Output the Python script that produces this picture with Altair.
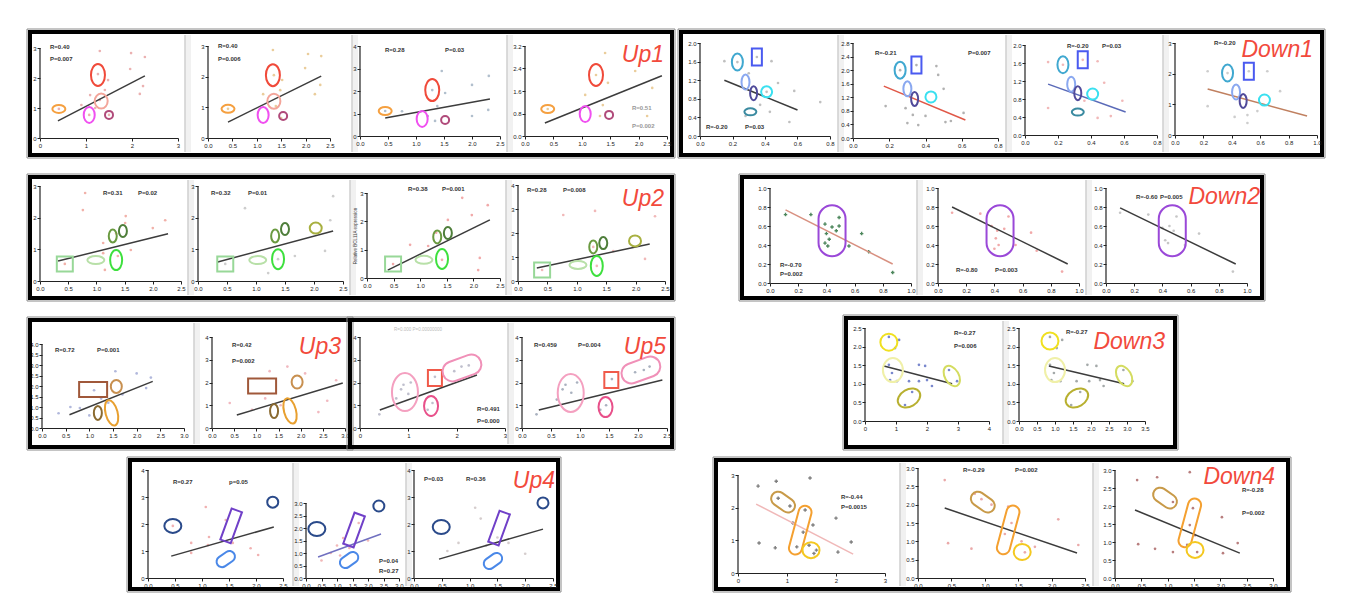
import altair as alt
import pandas as pd

# ======================= values =======================
# ---- Up1 ----
U1A_PX = [1.30, 1.98, 2.28, 1.96, 2.24, 2.17, 1.48, 1.41, 1.09, 1.26, 1.30, 1.07, 1.50, 0.41, 1.20, 0.90]
U1A_PY = [2.90, 2.83, 2.70, 2.30, 1.73, 1.47, 1.93, 1.60, 1.43, 2.13, 1.27, 0.77, 0.77, 0.97, 1.00, 1.10]
U1A_FIT = [0.39, 0.57, 2.28, 2.07]
U1A_MX = [0.41, 1.26, 1.33, 1.07, 1.50]
U1A_MY = [0.97, 2.10, 1.23, 0.77, 0.77]
U1A_TXT = ["R=0.40", "P=0.007"]

U1B_PX = [1.33, 2.05, 2.32, 1.99, 2.30, 2.19, 1.52, 1.48, 1.13, 1.50, 1.39, 1.35, 0.41]
U1B_PY = [2.87, 2.74, 2.67, 2.28, 1.73, 1.43, 1.89, 1.56, 1.43, 0.65, 1.04, 2.05, 0.95]
U1B_FIT = [0.41, 0.52, 2.32, 2.02]
U1B_MX = [0.41, 1.33, 1.35, 1.13, 1.54]
U1B_MY = [0.95, 2.05, 1.20, 0.75, 0.72]
U1B_TXT = ["R=0.40", "P=0.006"]

U1C_PX = [1.46, 2.00, 2.30, 1.52, 1.38, 2.29, 2.00, 1.21, 0.75, 1.34, 1.29, 0.45]
U1C_PY = [2.89, 2.27, 2.67, 1.91, 1.33, 1.16, 0.89, 0.89, 1.10, 0.67, 2.04, 1.11]
U1C_FIT = [0.45, 0.80, 2.32, 1.64]
U1C_MX = [0.45, 1.29, None, 1.11, 1.52]
U1C_MY = [1.11, 2.04, None, 0.76, 0.71]
U1C_TXT = ["R=0.28", "P=0.03"]

U1D_PX = [1.41, 1.94, 2.24, 1.46, 1.37, 1.32, 1.06, 2.15, 1.25, 0.40]
U1D_PY = [2.95, 2.31, 1.71, 1.89, 1.10, 0.71, 1.46, 0.71, 2.17, 0.96]
U1D_FIT = [0.35, 0.46, 2.41, 2.14]
U1D_MX = [0.40, 1.25, None, 1.06, 1.48]
U1D_MY = [0.96, 2.17, None, 0.78, 0.75]
U1D_TXT = ["R=0.51", "P=0.002"]

# ---- Down1 ----
D1A_PX = [0.15, 0.44, 0.48, 0.58, 0.30, 0.55, 0.37, 0.43, 0.74, 0.28, 0.41, 0.23, 0.35]
D1A_PY = [1.61, 1.61, 1.14, 0.97, 1.35, 0.30, 0.67, 0.52, 0.73, 0.43, 0.95, 1.59, 1.70]
D1A_FIT = [0.15, 1.20, 0.60, 0.56]
D1A_MX = [0.23, 0.35, 0.28, 0.33, 0.41, 0.31]
D1A_MY = [1.59, 1.70, 1.16, 0.92, 0.95, 0.52]
D1A_TXT = ["R=-0.20", "P=0.03"]

D1B_PX = [0.18, 0.29, 0.33, 0.40, 0.47, 0.50, 0.46, 0.30, 0.36, 0.51, 0.54, 0.61, 0.26, 0.35]
D1B_PY = [0.94, 0.88, 0.68, 0.65, 1.86, 1.45, 2.12, 0.44, 0.38, 0.47, 0.50, 0.74, 2.00, 2.15]
D1B_FIT = [0.17, 1.53, 0.62, 0.53]
D1B_MX = [0.26, 0.35, 0.30, 0.34, 0.43, None]
D1B_MY = [2.00, 2.15, 1.45, 1.15, 1.21, None]
D1B_TXT = ["R=-0.21", "P=0.007"]

D1C_PX = [0.14, 0.44, 0.48, 0.14, 0.44, 0.52, 0.59, 0.36, 0.23, 0.35]
D1C_PY = [1.62, 1.64, 1.16, 0.60, 0.38, 0.42, 0.76, 0.76, 1.56, 1.67]
D1C_FIT = [0.14, 1.13, 0.61, 0.51]
D1C_MX = [0.23, 0.35, 0.28, 0.32, 0.41, 0.32]
D1C_MY = [1.56, 1.67, 1.13, 0.93, 0.91, 0.51]
D1C_TXT = ["R=-0.20", "P=0.03"]

D1D_PX = [0.23, 0.65, 0.74, 0.42, 0.51, 0.58, 0.51, 0.23, 0.37, 0.52]
D1D_PY = [2.08, 2.08, 1.43, 0.59, 0.65, 0.78, 0.39, 0.94, 2.02, 2.08]
D1D_FIT = [0.23, 1.50, 0.93, 0.62]
D1D_MX = [0.37, 0.52, 0.43, 0.48, 0.63, None]
D1D_MY = [2.02, 2.08, 1.40, 1.11, 1.14, None]
D1D_TXT = ["R=-0.20"]

# ---- Up2 ----
U2A_PX = [0.80, 0.76, 1.52, 1.51, 2.22, 2.00, 1.12, 1.61, 1.12, 1.15, 1.38, 0.44, 1.35]
U2A_PY = [2.78, 2.24, 2.05, 1.83, 1.92, 1.67, 1.20, 0.98, 0.88, 0.35, 0.79, 0.54, 1.50]
U2A_FIT = [0.32, 0.63, 2.27, 1.49]
U2A_MX = [0.44, 0.99, 1.35, 1.29, 1.47, None]
U2A_MY = [0.54, 0.66, 0.66, 1.42, 1.58, None]
U2A_TXT = ["R=0.31", "P=0.02"]

U2B_PX = [0.81, 2.33, 2.28, 2.19, 1.21, 1.67, 0.47, 1.38]
U2B_PY = [2.30, 2.68, 1.92, 0.95, 0.25, 0.79, 0.54, 0.69]
U2B_FIT = [0.34, 0.60, 2.33, 1.58]
U2B_MX = [0.47, 1.03, 1.38, 1.33, 1.50, 2.03]
U2B_MY = [0.54, 0.66, 0.69, 1.42, 1.64, 1.67]
U2B_TXT = ["R=0.32", "P=0.01"]

U2C_PX = [1.79, 1.97, 2.27, 1.52, 0.81, 1.15, 1.41, 2.12, 2.09, 0.49, 1.30]
U2C_PY = [2.83, 2.22, 2.57, 2.05, 1.17, 1.13, 0.64, 0.71, 0.28, 0.49, 1.60]
U2C_FIT = [0.39, 0.28, 2.31, 2.05]
U2C_MX = [0.49, 1.07, 1.41, 1.32, 1.52, None]
U2C_MY = [0.49, 0.64, 0.67, 1.45, 1.59, None]
U2C_TXT = ["R=0.38", "P=0.001"]

U2D_PX = [0.77, 1.31, 2.33, 2.16, 1.62, 0.41, 1.34, 1.28]
U2D_PY = [2.75, 2.92, 2.70, 0.92, 1.25, 0.46, 0.63, 1.42]
U2D_FIT = [0.32, 0.54, 2.24, 1.54]
U2D_MX = [0.41, 1.02, 1.34, 1.28, 1.45, 1.99]
U2D_MY = [0.46, 0.67, 0.63, 1.42, 1.58, 1.67]
U2D_TXT = ["R=0.28", "P=0.008"]

# ---- Down2 ----
D2A_PX = [0.11, 0.29, 0.39, 0.44, 0.47, 0.49, 0.40, 0.42, 0.39, 0.41, 0.56, 0.65, 0.70, 0.87, 0.49]
D2A_PY = [0.72, 0.72, 0.62, 0.59, 0.55, 0.69, 0.52, 0.46, 0.42, 0.39, 0.39, 0.52, 0.33, 0.11, 0.60]
D2A_FIT = [0.11, 0.77, 0.87, 0.20]
D2A_MX = [0.44]
D2A_MY = [0.55]
D2A_TXT = ["R=-0.70", "P=0.002"]

D2B_PX = [0.10, 0.30, 0.38, 0.42, 0.47, 0.50, 0.41, 0.43, 0.40, 0.55, 0.66, 0.70, 0.88]
D2B_PY = [0.74, 0.73, 0.60, 0.55, 0.57, 0.70, 0.47, 0.40, 0.36, 0.40, 0.53, 0.34, 0.12]
D2B_FIT = [0.10, 0.80, 0.92, 0.20]
D2B_MX = [0.44]
D2B_MY = [0.55]
D2B_TXT = ["R=-0.80", "P=0.003"]

D2C_PX = [0.10, 0.30, 0.40, 0.45, 0.48, 0.50, 0.42, 0.44, 0.56, 0.66, 0.90]
D2C_PY = [0.74, 0.72, 0.58, 0.60, 0.55, 0.70, 0.45, 0.42, 0.40, 0.52, 0.12]
D2C_FIT = [0.10, 0.79, 0.92, 0.20]
D2C_MX = [0.47]
D2C_MY = [0.55]
D2C_TXT = ["R=-0.60", "P=0.005"]

# ---- Up3 ----
U3A_PX = [0.35, 0.80, 1.10, 1.25, 1.55, 1.70, 2.00, 2.20, 2.30, 1.40, 1.00, 0.60]
U3A_PY = [0.70, 0.95, 1.80, 1.40, 2.70, 1.60, 2.60, 1.90, 2.40, 1.20, 0.60, 1.00]
U3A_FIT = [0.58, 0.63, 2.34, 2.22]
U3A_MX = [1.08, 1.57, 1.18, 1.47]
U3A_MY = [1.83, 1.98, 0.72, 0.72]
U3A_TXT = ["R=0.72", "P=0.001"]

U3B_PX = [0.40, 0.90, 1.30, 1.70, 2.10, 2.60, 2.80, 1.20, 1.55, 2.40]
U3B_PY = [1.10, 0.80, 2.50, 2.70, 2.40, 1.20, 2.10, 1.30, 1.00, 0.70]
U3B_FIT = [0.56, 0.57, 2.95, 1.98]
U3B_MX = [1.13, 1.92, 1.40, 1.76]
U3B_MY = [1.85, 2.02, 0.75, 0.75]
U3B_TXT = ["R=0.42", "P=0.002"]

# ---- Up5 ----
U5A_PX = [0.40, 0.75, 0.90, 1.00, 1.05, 1.40, 1.50, 1.55, 1.95, 2.10, 2.25, 0.85]
U5A_PY = [0.60, 1.30, 1.90, 1.50, 2.00, 0.80, 1.10, 2.25, 2.50, 2.70, 2.75, 1.70]
U5A_FIT = [0.41, 0.79, 2.42, 2.33]
U5A_MX = [0.93, 1.55, 1.47, 2.11]
U5A_MY = [1.58, 2.20, 0.97, 2.64]
U5A_TXT = ["R=0.491", "P=0.000"]

U5B_PX = [0.25, 0.60, 0.75, 0.85, 0.95, 1.35, 1.45, 1.55, 1.95, 2.10, 2.20, 0.70]
U5B_PY = [0.60, 1.25, 1.90, 1.55, 2.00, 0.80, 1.00, 2.15, 2.45, 2.55, 2.70, 1.70]
U5B_FIT = [0.29, 0.79, 2.42, 2.11]
U5B_MX = [0.84, 1.54, 1.44, 2.05]
U5B_MY = [1.54, 2.11, 0.92, 2.55]
U5B_TXT = ["R=0.459", "P=0.004"]

# ---- Down3 ----
D3A_PX = [0.77, 0.97, 1.10, 0.77, 0.87, 0.81, 1.03, 1.42, 1.74, 1.94, 1.74, 2.00, 2.16, 2.71, 2.97, 1.52, 1.29]
D3A_PY = [2.26, 1.96, 2.18, 1.51, 1.29, 1.10, 1.07, 1.07, 1.51, 1.48, 1.07, 1.10, 0.94, 1.37, 1.07, 0.78, 0.43]
D3A_FIT = [0.61, 1.48, 2.81, 1.00]
D3A_MX = [0.77, 0.90, 2.80, 1.42]
D3A_MY = [2.12, 1.37, 1.21, 0.62]
D3A_TXT = ["R=-0.27", "P=0.006"]

D3B_PX = [0.86, 1.05, 1.20, 0.86, 0.97, 0.90, 1.15, 1.60, 1.90, 2.15, 1.95, 2.25, 2.35, 2.90, 3.15, 1.70, 1.45]
D3B_PY = [2.26, 1.96, 2.18, 1.51, 1.29, 1.10, 1.07, 1.07, 1.51, 1.48, 1.07, 1.10, 0.94, 1.37, 1.07, 0.78, 0.43]
D3B_FIT = [0.83, 1.48, 2.92, 1.00]
D3B_MX = [0.86, 1.00, 2.92, 1.61]
D3B_MY = [2.15, 1.37, 1.21, 0.62]
D3B_TXT = ["R=-0.27"]

# ---- Up4 ----
U4A_PX = [1.07, 0.80, 1.11, 1.13, 0.80, 2.04, 1.44, 1.57, 0.46, 1.90]
U4A_PY = [2.63, 1.30, 1.22, 1.52, 0.93, 0.85, 2.15, 1.30, 1.93, 1.10]
U4A_FIT = [0.43, 0.81, 2.33, 1.89]
U4A_MX = [0.46, 2.31, 1.54, 1.44]
U4A_MY = [1.93, 2.81, 1.93, 0.70]
U4A_TXT = ["R=0.27", "p=0.05"]

U4B_PX = [1.00, 1.20, 1.40, 0.80, 1.70, 2.00, 1.10, 0.50]
U4B_PY = [1.30, 1.60, 1.20, 1.00, 2.20, 1.50, 0.90, 0.70]
U4B_FIT = [0.39, 0.84, 2.42, 1.76]
U4B_MX = [0.35, 2.35, 1.55, 1.39]
U4B_MY = [1.96, 2.88, 1.92, 0.72]
U4B_TXT = ["P=0.04", "R=0.27"]

U4C_PX = [1.10, 0.80, 1.30, 1.50, 2.00, 1.20, 0.60, 1.70]
U4C_PY = [2.60, 1.30, 1.20, 1.50, 0.90, 2.20, 1.00, 1.30]
U4C_FIT = [0.45, 0.70, 2.32, 1.81]
U4C_MX = [0.49, 2.32, 1.53, 1.42]
U4C_MY = [1.89, 2.78, 1.85, 0.63]
U4C_TXT = ["P=0.03", "R=0.36"]

# ---- Down4 ----
D4A_PX = [0.41, 0.78, 1.47, 0.43, 0.76, 2.00, 2.04, 2.31, 0.82, 1.06, 1.37, 1.33, 1.53, 1.60, 1.12, 1.45, 1.55, 1.20]
D4A_PY = [2.66, 2.81, 2.91, 0.92, 0.77, 1.68, 0.64, 0.95, 2.29, 2.05, 1.93, 1.25, 1.47, 0.70, 1.53, 0.85, 0.60, 0.80]
D4A_FIT = [0.37, 2.11, 2.35, 0.58]
D4A_MX = [0.92, 1.27, 1.49]
D4A_MY = [2.17, 1.31, 0.70]
D4A_TXT = ["R=-0.44", "P=0.0015"]

D4B_PX = [0.40, 0.85, 1.35, 2.10, 2.40, 0.45, 0.80, 1.10, 1.40, 1.55, 1.60, 1.75, 1.30, 0.95]
D4B_PY = [2.67, 2.30, 1.95, 1.60, 0.90, 0.95, 0.80, 2.00, 1.50, 1.00, 0.70, 0.85, 1.20, 2.15]
D4B_FIT = [0.40, 1.91, 2.38, 0.68]
D4B_MX = [0.97, 1.35, 1.56]
D4B_MY = [2.07, 1.31, 0.71]
D4B_TXT = ["R=-0.29", "P=0.002"]

D4C_PX = [0.42, 0.80, 1.42, 2.03, 0.44, 0.76, 1.10, 2.05, 2.33, 1.48, 1.42, 1.37, 1.56, 1.10, 1.52]
D4C_PY = [2.72, 2.80, 2.94, 1.69, 0.94, 0.81, 0.72, 0.69, 0.97, 1.94, 1.47, 0.92, 0.72, 2.11, 1.19]
D4C_FIT = [0.38, 1.89, 2.37, 0.69]
D4C_MX = [0.95, 1.42, 1.52]
D4C_MY = [2.22, 1.53, 0.78]
D4C_TXT = ["R=-0.28", "P=0.002"]

# axis tick values
T03 = [0, 1, 2, 3]
T04 = [0, 1, 2, 3, 4]
H25 = [0, 0.5, 1.0, 1.5, 2.0, 2.5]
H30 = [0, 0.5, 1.0, 1.5, 2.0, 2.5, 3.0]
H35 = [0, 0.5, 1.0, 1.5, 2.0, 2.5, 3.0, 3.5]
H40 = [0, 0.5, 1.0, 1.5, 2.0, 2.5, 3.0, 3.5, 4.0]
E08 = [0, 0.2, 0.4, 0.6, 0.8]
E10 = [0, 0.2, 0.4, 0.6, 0.8, 1.0]
F20 = [0, 0.4, 0.8, 1.2, 1.6, 2.0]
F28 = [0, 0.4, 0.8, 1.2, 1.6, 2.0, 2.4, 2.8]
F32 = [0, 0.8, 1.6, 2.4, 3.2]

GROUP_LABELS = ["Up1", "Down1", "Up2", "Down2", "Up3", "Up5", "Down3", "Up4", "Down4"]

# ======================= layout / style (not data) =======================
# panel: plot box in page px (x0, top, x1, bottom), x domain, x ticks, x format, y domain, y ticks, y format
GEOM = {
    "U1A": ((40, 48, 178, 138), (0, 3), T03, "d", (0, 3), T03, "d"),
    "U1B": ((208, 46, 330, 138), (0, 2.5), H25, ".1f", (0, 3), T03, "d"),
    "U1C": ((360, 46, 500, 136), (0, 2.5), H25, ".1f", (0, 4), T04, "d"),
    "U1D": ((525, 46, 667, 136), (0, 2.5), H25, ".1f", (0, 3.2), F32, ".1f"),
    "D1A": ((700, 43, 830, 136), (0, 0.8), E08, ".1f", (0, 2.0), F20, ".1f"),
    "D1B": ((853, 43, 998, 138), (0, 0.8), E08, ".1f", (0, 2.8), F28, ".1f"),
    "D1C": ((1025, 45, 1157, 135), (0, 0.8), E08, ".1f", (0, 2.0), F20, ".1f"),
    "D1D": ((1175, 43, 1317, 135), (0, 1.0), E10, ".1f", (0, 3), T03, "d"),
    "U2A": ((40, 186, 181, 281), (0, 2.5), H25, ".1f", (0, 3), T03, "d"),
    "U2B": ((198, 186, 343, 281), (0, 2.5), H25, ".1f", (0, 3), T03, "d"),
    "U2C": ((367, 193, 500, 278), (0, 2.5), H25, ".1f", (0, 3), T03, "d"),
    "U2D": ((518, 185, 665, 281), (0, 2.5), H25, ".1f", (0, 4), T04, "d"),
    "D2A": ((770, 188, 911, 283), (0, 1.0), E10, ".1f", (0, 1.0), E10, ".1f"),
    "D2B": ((938, 188, 1079, 283), (0, 1.0), E10, ".1f", (0, 1.0), E10, ".1f"),
    "D2C": ((1106, 188, 1247, 283), (0, 1.0), E10, ".1f", (0, 1.0), E10, ".1f"),
    "U3A": ((42, 344, 184, 428), (0, 3.0), H30, ".1f", (0, 4.0), H40, ".1f"),
    "U3B": ((212, 337, 345, 428), (0, 3.0), H30, ".1f", (0, 4), T04, "d"),
    "U5A": ((360, 337, 505, 428), (0, 3), T03, "d", (0, 4), T04, "d"),
    "U5B": ((522, 337, 667, 428), (0, 2.5), H25, ".1f", (0, 4), T04, "d"),
    "D3A": ((865, 328, 989, 421), (0, 4), T04, "d", (0, 2.5), H25, ".1f"),
    "D3B": ((1019, 328, 1145, 421), (0, 3.5), H35, ".1f", (0, 2.5), H25, ".1f"),
    "U4A": ((148, 470, 283, 578), (0, 2.5), H25, ".1f", (0, 4), T04, "d"),
    "U4B": ((306, 503, 399, 578), (0, 3.0), H30, ".1f", (0, 3.0), H30, ".1f"),
    "U4C": ((414, 470, 553, 578), (0, 2.5), H25, ".1f", (0, 4), T04, "d"),
    "D4A": ((738, 475, 885, 573), (0, 3), T03, "d", (0, 3), T03, "d"),
    "D4B": ((918, 468, 1085, 578), (0, 2.5), H25, ".1f", (0, 3.0), H30, ".1f"),
    "D4C": ((1115, 470, 1273, 578), (0, 3.0), H30, ".1f", (0, 3.0), H30, ".1f"),
}

TXT_POS = {
    "U1A": [(50, 47), (50, 59)], "U1B": [(218, 46), (218, 59)], "U1C": [(385, 50), (445, 50)],
    "U1D": [(632, 108), (632, 126)], "D1A": [(706, 127), (745, 127)], "D1B": [(875, 53), (968, 53)],
    "D1C": [(1067, 46), (1102, 46)], "D1D": [(1214, 43)],
    "U2A": [(103, 193), (138, 193)], "U2B": [(211, 193), (248, 193)], "U2C": [(408, 189), (442, 189)],
    "U2D": [(527, 190), (563, 190)], "D2A": [(780, 265), (780, 274)], "D2B": [(956, 270), (995, 270)],
    "D2C": [(1136, 197), (1160, 197)],
    "U3A": [(55, 350), (97, 350)], "U3B": [(232, 345), (232, 361)], "U5A": [(477, 409), (477, 421)],
    "U5B": [(534, 345), (578, 345)], "D3A": [(954, 333), (954, 346)], "D3B": [(1066, 332)],
    "U4A": [(173, 482), (229, 482)], "U4B": [(379, 561), (379, 571)], "U4C": [(424, 479), (466, 479)],
    "D4A": [(841, 497), (841, 507)], "D4B": [(963, 470), (1015, 470)], "D4C": [(1242, 490), (1242, 513)],
}

PCOL = dict(U1A="#e9a9a9", U1B="#e8c890", U1C="#a8b8c8", U1D="#e8c890", D1A="#b8b8b8", D1B="#a8a8a8",
            D1C="#f0b0b0", D1D="#c8c8c8", U2A="#f0a8a0", U2B="#c8c8c8", U2C="#f0a0a0", U2D="#f0b0b0",
            D2A="#3a7a4a", D2B="#f0a0a0", D2C="#c0c0c0", U3A="#a8b0d8", U3B="#f0b0b8", U5A="#b8b8c8",
            U5B="#a0a8b8", D3A="#6a7ac8", D3B="#9aa0a0", U4A="#f0a8a8", U4B="#f0b0b0", U4C="#d0c8c8",
            D4A="#707070", D4B="#e8a0a0", D4C="#b07070")
PSHAPE = dict(D2A="cross", D4A="cross")
FCOL = dict(D1B="#e05848", D1C="#5a6ab8", D1D="#c08060", D2A="#d89080", U4B="#7070c0", D4A="#f0b8b8")
TCOL = dict(U1D="#999999")

# annotation outline styles per group: (kind, width px, height px, angle, colour)
UP1_STY = [("e", 13, 8, 0, "#f5a040"), ("e", 14, 22, 0, "#f04a3a"), ("e", 13, 15, 0, "#f3a59a"),
           ("e", 11, 16, 0, "#f050f0"), ("e", 8, 8, 0, "#b04a7a")]
DN1_STY = [("e", 11, 17, 0, "#40a8d0"), ("r", 10, 17, 0, "#4a5af0"), ("e", 8, 15, 0, "#8aa8f0"),
           ("e", 7, 14, 0, "#504a9a"), ("e", 11, 11, 0, "#3ae0f0"), ("e", 12, 7, 0, "#3a8aa0")]
UP2_STY = [("r", 16, 15, 0, "#98d898"), ("e", 17, 8, 0, "#b8e0a8"), ("e", 12, 20, 0, "#3ee03e"),
           ("e", 8, 13, 0, "#6a9a40"), ("e", 8, 12, 0, "#4e7e3a"), ("e", 12, 11, 0, "#a8b040")]
DN2_STY = [("c", 27, 51, 0, "#9a48d8")]
UP3_STY = [("r", 28, 15, 0, "#a0583a"), ("e", 11, 13, 0, "#c89050"), ("e", 8, 14, 0, "#8a6a30"),
           ("e", 12, 26, -15, "#e8a030")]
UP5_STY = [("e", 26, 38, 0, "#f4a0c0"), ("r", 14, 16, 0, "#f05a4a"), ("e", 14, 20, 0, "#e8508a"),
           ("c", 40, 20, -20, "#f090b8")]
DN3_STY = [("e", 17, 17, 0, "#f0e020"), ("e", 20, 24, 0, "#f0f0a8"), ("e", 14, 22, -30, "#d4dc60"),
           ("e", 24, 17, -30, "#b8b030")]
UP4_STY = [("e", 17, 14, 0, "#2a4a8a"), ("e", 11, 11, 0, "#2a4a8a"), ("r", 11, 33, 20, "#7040c8"),
           ("c", 20, 11, -35, "#4a88e8")]
DN4_STY = [("c", 26, 14, 35, "#c89a48"), ("c", 13, 50, 15, "#f4a030"), ("e", 17, 16, 0, "#f4c820")]

ROW_BOX = [(8, 166), (166, 310), (310, 453), (453, 592)]
ROWS = [
    [dict(lab=0, panels=["U1A", "U1B", "U1C", "U1D"], border=(30, 32, 672, 155), div=[185, 352, 507], lpos=(664, 62), sty=UP1_STY),
     dict(lab=1, panels=["D1A", "D1B", "D1C", "D1D"], border=(681, 32, 1322, 155), div=[838, 1006, 1163], lpos=(1313, 57), sty=DN1_STY)],
    [dict(lab=2, panels=["U2A", "U2B", "U2C", "U2D"], border=(30, 177, 672, 298), div=[188, 350, 506], lpos=(664, 206), sty=UP2_STY),
     dict(lab=3, panels=["D2A", "D2B", "D2C"], border=(742, 177, 1262, 298), div=[917, 1086], lpos=(1260, 204), sty=DN2_STY)],
    [dict(lab=4, panels=["U3A", "U3B"], border=(30, 320, 350, 447), div=[194], lpos=(341, 354), sty=UP3_STY),
     dict(lab=5, panels=["U5A", "U5B"], border=(350, 320, 672, 447), div=[508], lpos=(666, 354), sty=UP5_STY),
     dict(lab=6, panels=["D3A", "D3B"], border=(846, 318, 1175, 447), div=[1003], lpos=(1165, 349), sty=DN3_STY)],
    [dict(lab=7, panels=["U4A", "U4B", "U4C"], border=(130, 460, 558, 589), div=[293, 406], lpos=(555, 488), sty=UP4_STY),
     dict(lab=8, panels=["D4A", "D4B", "D4C"], border=(716, 460, 1288, 589), div=[900, 1093], lpos=(1275, 484), sty=DN4_STY)],
]

G = globals()
ONE = pd.DataFrame({"k": [0]})
FONT = "Liberation Sans"
AXIS = dict(title=None, grid=False, labelFontSize=6, labelColor="#222222", tickSize=3, tickColor="#222222",
            tickWidth=1, domainColor="#222222", domainWidth=1.2, labelPadding=1, labelOverlap=False,
            labelFlush=False, labelFont=FONT)


def shape_path(kind, w, h):
    a, b = w / 2, h / 2
    if kind == "e":
        return f"M {-a} 0 A {a} {b} 0 1 1 {a} 0 A {a} {b} 0 1 1 {-a} 0 Z"
    if kind == "r":
        return f"M {-a} {-b} L {a} {-b} L {a} {b} L {-a} {b} Z"
    if h >= w:
        r, d = a, b - a
        return f"M {-r} {-d} A {r} {r} 0 0 1 {r} {-d} L {r} {d} A {r} {r} 0 0 1 {-r} {d} Z"
    r, d = b, a - b
    return f"M {-d} {r} A {r} {r} 0 0 1 {-d} {-r} L {d} {-r} A {r} {r} 0 0 1 {d} {r} Z"


def make_panel(name, T, grp, idx):
    box, xd, xt, xf, yd, yt, yf = GEOM[name]
    x0, y0, x1, y1 = box
    W, H = x1 - x0, y1 - T
    ya, yb = yd
    ytop = yb + (yb - ya) * (y0 - T) / (y1 - y0)
    xs = alt.Scale(domain=list(xd), nice=False, zero=False)
    ys = alt.Scale(domain=[ya, ytop], nice=False, zero=False)
    X = alt.X("x:Q", scale=xs, axis=alt.Axis(values=xt, format=xf, **AXIS))
    Y = alt.Y("y:Q", scale=ys, axis=alt.Axis(values=yt, format=yf, domain=False, **AXIS))

    def rx(v):
        return alt.value(v - x0)

    def ry(v):
        return alt.value(v - T)

    layers = []
    pts = pd.DataFrame({"x": G[name + "_PX"], "y": G[name + "_PY"]})
    shp = PSHAPE.get(name, "circle")
    layers.append(alt.Chart(pts).mark_point(filled=True, shape=shp, size=12 if shp == "cross" else 7,
                                            color=PCOL[name], opacity=0.9).encode(x=X, y=Y))
    f = G[name + "_FIT"]
    layers.append(alt.Chart(pd.DataFrame({"x": [f[0], f[2]], "y": [f[1], f[3]]}))
                  .mark_line(color=FCOL.get(name, "#3c3c3c"), strokeWidth=1.5).encode(x=X, y=Y))
    layers.append(alt.Chart(pd.DataFrame({"y": [ya], "y2": [yb]}))
                  .mark_rule(color="#222222", strokeWidth=1.2).encode(x=alt.value(0), y=Y, y2="y2:Q"))
    rows = []
    for (kind, w, h, ang, col), mx, my in zip(grp["sty"], G[name + "_MX"], G[name + "_MY"]):
        if mx is None:
            continue
        rows.append(dict(x=mx, y=my, path=shape_path(kind, w, h), ang=ang % 360, col=col))
    layers.append(alt.Chart(pd.DataFrame(rows)).mark_point(filled=False, size=4, opacity=1, strokeWidth=2)
                  .encode(x=X, y=Y, shape=alt.Shape("path:N", scale=None, legend=None),
                          angle=alt.Angle("ang:Q", scale=None), stroke=alt.Stroke("col:N", scale=None, legend=None)))
    for t, (px, py) in zip(G[name + "_TXT"], TXT_POS[name]):
        layers.append(alt.Chart(ONE).mark_text(text=t, align="left", baseline="middle", fontSize=6,
                                               fontWeight="bold", font=FONT, color=TCOL.get(name, "#333333"))
                      .encode(x=rx(px), y=ry(py)))
    if name == "U2C":
        layers.append(alt.Chart(ONE).mark_text(text="Relative BCL11A expression", angle=270, fontSize=4.5,
                                               font=FONT, color="#444444").encode(x=rx(356), y=ry(236)))
    if name == "U5A":
        layers.append(alt.Chart(ONE).mark_text(text="R=0.000  P=0.00000000", fontSize=4.5, font=FONT,
                                               color="#bbbbbb").encode(x=rx(418), y=ry(330)))
    bx0, by0, bx1, by1 = grp["border"]
    n = len(grp["panels"])
    if idx < n - 1:
        dx = grp["div"][idx]
        layers.append(alt.Chart(ONE).mark_rect(color="#f1f1f1")
                      .encode(x=rx(dx), x2=rx(dx + 6), y=ry(by0 + 3), y2=ry(by1 - 3)))
        layers.append(alt.Chart(ONE).mark_rule(color="#cfcfcf", strokeWidth=1.5)
                      .encode(x=rx(dx), y=ry(by0 + 3), y2=ry(by1 - 3)))
    if idx == 0:
        layers.append(alt.Chart(ONE).mark_rect(fillOpacity=0, stroke="#8a8a8a", strokeWidth=1)
                      .encode(x=rx(bx0 - 3), x2=rx(bx1 + 3), y=ry(by0 - 3), y2=ry(by1 + 3)))
        layers.append(alt.Chart(ONE).mark_rect(fillOpacity=0, stroke="#000000", strokeWidth=4)
                      .encode(x=rx(bx0), x2=rx(bx1), y=ry(by0), y2=ry(by1)))
    if idx == n - 1:
        lx, ly = grp["lpos"]
        layers.append(alt.Chart(ONE).mark_text(text=GROUP_LABELS[grp["lab"]], align="right", baseline="alphabetic",
                                               fontSize=23, fontStyle="italic", font=FONT, color="#f24a3c")
                      .encode(x=rx(lx), y=ry(ly)))
    return alt.layer(*layers).properties(width=W, height=H)


def spacer(w):
    return alt.Chart(ONE).mark_point(opacity=0).encode(x=alt.value(0), y=alt.value(0)).properties(width=w, height=10)


def row_spacer(w, T, top, bot):
    return (alt.Chart(ONE).mark_rect(color="white")
            .encode(x=alt.value(0), x2=alt.value(1328), y=alt.value(top - T), y2=alt.value(bot - T))
            .properties(width=w, height=10))


row_charts = []
for groups, (top, bot) in zip(ROWS, ROW_BOX):
    names = [p for g in groups for p in g["panels"]]
    T = min(GEOM[p][0][1] for p in names)
    items = []
    cur = 8
    first = True
    for g in groups:
        for i, pn in enumerate(g["panels"]):
            x0 = GEOM[pn][0][0]
            gap = x0 - cur
            if first:
                items.append(row_spacer(gap, T, top, bot))
                first = False
            elif gap > 0:
                items.append(spacer(gap))
            items.append(make_panel(pn, T, g, i))
            cur = GEOM[pn][0][2]
    row_charts.append(alt.hconcat(*items, spacing=0, bounds="flush"))

chart = (alt.vconcat(*row_charts, spacing=0, bounds="full")
         .properties(padding=0, background="white")
         .configure_view(stroke=None))

chart.save("out.html", embed_options={"renderer": "svg", "actions": False})
